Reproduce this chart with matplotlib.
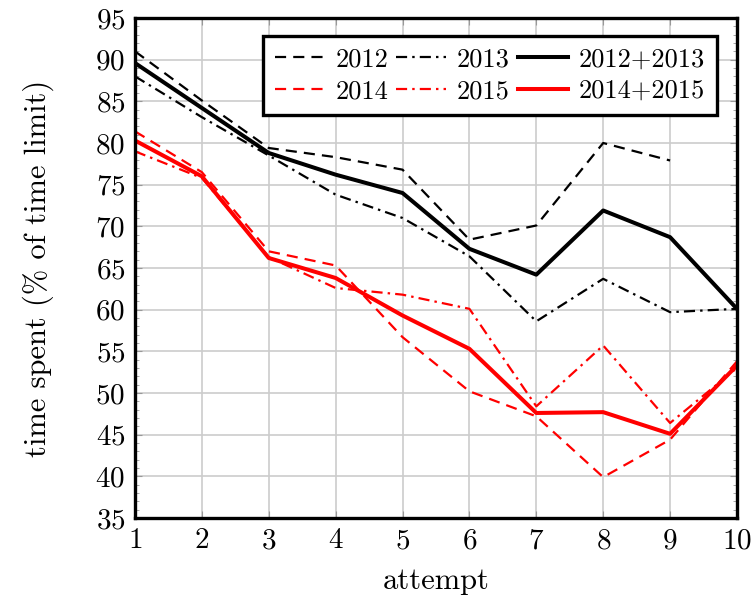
import matplotlib
matplotlib.use("Agg")
import matplotlib.pyplot as plt
from matplotlib.ticker import MultipleLocator

plt.rcParams['font.family'] = 'serif'
plt.rcParams['font.serif'] = ['cmr10']
plt.rcParams['mathtext.fontset'] = 'cm'
plt.rcParams['axes.formatter.use_mathtext'] = True

attempts = [1, 2, 3, 4, 5, 6, 7, 8, 9, 10]

y2012 = [91.0, 85.1, 79.4, 78.3, 76.8, 68.4, 70.1, 80.0, 77.9]
y2013 = [88.0, 83.1, 78.5, 73.8, 71.0, 66.4, 58.6, 63.7, 59.7, 60.1]
y2012_2013 = [89.6, 84.2, 78.8, 76.2, 74.0, 67.3, 64.2, 71.9, 68.7, 60.1]
y2014 = [81.4, 76.5, 67.0, 65.3, 56.7, 50.2, 47.2, 39.9, 44.4, 53.8]
y2015 = [79.0, 75.8, 66.3, 62.6, 61.8, 60.1, 48.4, 55.7, 46.4, 53.0]
y2014_2015 = [80.3, 76.0, 66.2, 63.8, 59.3, 55.3, 47.6, 47.7, 45.1, 53.3]

fig = plt.figure(figsize=(7.52, 6.0), dpi=100)
ax = fig.add_axes([0.1795, 0.1367, 0.8005, 0.8333])

dash = (0, (5, 3.2))
dashdot = (0, (5, 2.3, 1.1, 2.3))
thin = 1.6
thick = 2.9

l12, = ax.plot(attempts[:len(y2012)], y2012, color='black', lw=thin, linestyle=dash, label='2012')
l14, = ax.plot(attempts, y2014, color='red', lw=thin, linestyle=dash, label='2014')
l13, = ax.plot(attempts, y2013, color='black', lw=thin, linestyle=dashdot, label='2013')
l15, = ax.plot(attempts, y2015, color='red', lw=thin, linestyle=dashdot, label='2015')
l1213, = ax.plot(attempts, y2012_2013, color='black', lw=thick, label='2012+2013')
l1415, = ax.plot(attempts, y2014_2015, color='red', lw=thick, label='2014+2015')

ax.set_xlim(1, 10)
ax.set_ylim(35, 95)
ax.xaxis.set_major_locator(MultipleLocator(1))
ax.yaxis.set_major_locator(MultipleLocator(5))
ax.yaxis.set_minor_locator(MultipleLocator(1))
ax.tick_params(which='both', direction='in', top=True, right=True, labelsize=21, color='#999999')
ax.tick_params(which='major', length=5, pad=7)
ax.tick_params(which='minor', length=3)
ax.grid(True, which='major', color='#cccccc', lw=1.2)
ax.set_axisbelow(True)
for s in ax.spines.values():
    s.set_linewidth(2.4)

ax.set_xlabel('attempt', fontsize=22, labelpad=10)
ax.set_ylabel('time spent (% of time limit)', fontsize=22, labelpad=30)

leg = ax.legend(handles=[l12, l14, l13, l15, l1213, l1415], ncol=3, loc='upper right',
                bbox_to_anchor=(0.975, 0.975), fontsize=19, frameon=True, fancybox=False,
                framealpha=1, edgecolor='black', handlelength=1.9, handletextpad=0.4,
                columnspacing=0.3, labelspacing=0.3, borderpad=0.45, borderaxespad=0.2)
leg.get_frame().set_linewidth(2.4)

fig.savefig('out.png', dpi=100)
